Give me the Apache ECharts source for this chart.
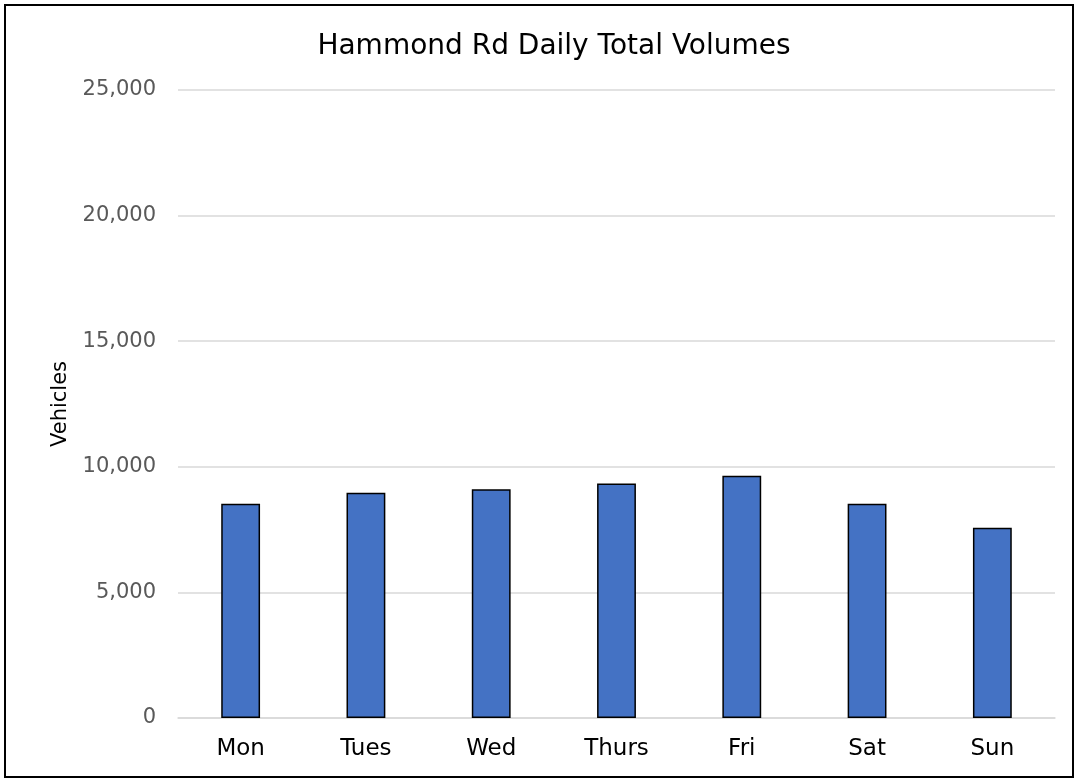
<!DOCTYPE html>
<html><head><meta charset="utf-8">
<script src="https://cdn.jsdelivr.net/npm/echarts@6/dist/echarts.min.js"></script>
<style>html,body{margin:0;padding:0;background:#fff}#c{width:1079px;height:783px}</style>
</head><body><div id="c"></div>
<script>
const categories = ['Mon','Tues','Wed','Thurs','Fri','Sat','Sun'];
const volumes = [8530, 8970, 9110, 9340, 9640, 8530, 7570];
const yTicks = {min: 0, max: 25000, interval: 5000};
const FONT = '"DejaVu Sans", sans-serif';
const chart = echarts.init(document.getElementById('c'));
chart.setOption({
  animation: false,
  backgroundColor: '#fff',
  graphic: [{type:'rect', shape:{x:5,y:5,width:1068,height:772}, style:{fill:'none', stroke:'#000', lineWidth:2}, silent:true}],
  title: {text: 'Hammond Rd Daily Total Volumes', left: 549, top: 28, textAlign: 'center',
    textStyle: {fontFamily: FONT, fontSize: 28, fontWeight: 'normal', color: '#000'}},
  grid: {left: 178, right: 24, top: 90, bottom: 65, containLabel: false},
  xAxis: {type: 'category', data: categories,
    axisLine: {lineStyle: {color: '#d9d9d9', width: 1.5}}, axisTick: {show: false},
    axisLabel: {fontFamily: FONT, fontSize: 23, color: '#000', margin: 20}},
  yAxis: {type: 'value', min: yTicks.min, max: yTicks.max, interval: yTicks.interval,
    name: 'Vehicles', nameLocation: 'middle', nameGap: 107, nameRotate: 90,
    nameTextStyle: {fontFamily: FONT, fontSize: 21, color: '#000'},
    axisLine: {show: false}, axisTick: {show: false},
    axisLabel: {fontFamily: FONT, fontSize: 21, color: '#595959', margin: 22,
      formatter: v => v.toLocaleString('en-US')},
    splitLine: {lineStyle: {color: '#d9d9d9', width: 1.5}}},
  series: [{type: 'bar', data: volumes, barWidth: '31%',
    itemStyle: {color: '#4472c4', borderColor: '#000', borderWidth: 1.5}}]
});
</script></body></html>
